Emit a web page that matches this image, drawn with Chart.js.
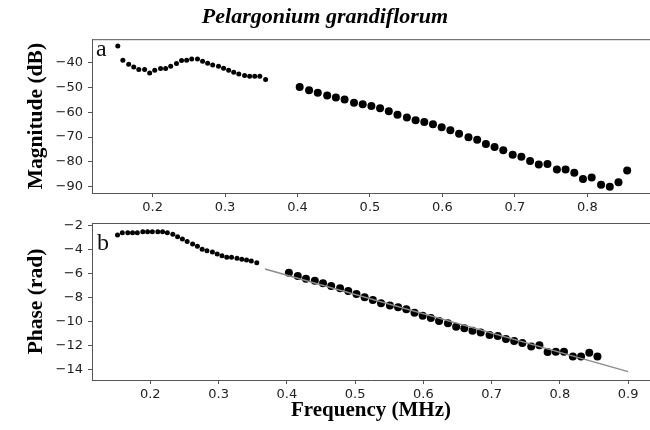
<!DOCTYPE html>
<html>
<head>
<meta charset="UTF-8">
<title>Pelargonium grandiflorum</title>
<script src="https://cdn.jsdelivr.net/npm/chart.js@4.4.0/dist/chart.umd.min.js"></script>
<style>
  html, body { margin: 0; padding: 0; background: #fff; overflow: hidden; }
  .panel { position: absolute; left: 0; width: 650px; height: 215px; }
  #top { top: 0; }
  #bottom { top: 215px; }
</style>
</head>
<body>
<div class="panel" id="top"><canvas id="magChart"></canvas></div>
<div class="panel" id="bottom"><canvas id="phaseChart"></canvas></div>
<script>
// frequencies (MHz): first sweep (small dots) and second sweep (large dots)
const freqSmall = [0.152, 0.159, 0.167, 0.174, 0.181, 0.189, 0.196, 0.203, 0.211, 0.218,
                   0.225, 0.233, 0.240, 0.247, 0.254, 0.262, 0.269, 0.276, 0.283, 0.291,
                   0.298, 0.305, 0.312, 0.319, 0.327, 0.334, 0.341, 0.348, 0.356];
const freqLarge = [0.403, 0.416, 0.428, 0.441, 0.453, 0.465, 0.478, 0.490, 0.502, 0.514,
                   0.526, 0.538, 0.551, 0.563, 0.575, 0.587, 0.599, 0.611, 0.623, 0.636,
                   0.648, 0.660, 0.672, 0.684, 0.697, 0.709, 0.721, 0.733, 0.745, 0.758,
                   0.770, 0.782, 0.794, 0.806, 0.819, 0.831, 0.843, 0.855];

// magnitude (dB)
const magSmall = [-33.3, -39.1, -40.7, -41.8, -42.8, -42.8, -44.2, -43.1, -42.4, -42.4,
                  -41.5, -40.4, -39.2, -39.1, -38.6, -38.6, -39.5, -40.3, -41.0, -41.5,
                  -42.3, -43.1, -43.9, -44.6, -45.2, -45.5, -45.5, -45.5, -46.8];
const magLarge = [-49.8, -51.1, -52.2, -53.3, -54.1, -54.9, -56.2, -56.8, -57.5, -58.4,
                  -59.6, -61.0, -62.1, -63.2, -63.9, -64.8, -66.0, -67.2, -68.7, -70.1,
                  -71.1, -72.8, -74.0, -75.3, -77.1, -77.9, -79.6, -81.0, -80.8, -83.0,
                  -83.0, -84.3, -86.9, -86.3, -89.2, -90.0, -88.2, -83.4];

// phase (rad)
const phaseSmall = [-2.75, -2.56, -2.56, -2.56, -2.56, -2.48, -2.48, -2.48, -2.48, -2.48,
                    -2.56, -2.70, -2.90, -3.10, -3.30, -3.50, -3.70, -3.95, -4.07, -4.18,
                    -4.34, -4.50, -4.62, -4.62, -4.71, -4.79, -4.85, -4.93, -5.07];
const phaseLarge = [-5.91, -6.19, -6.41, -6.58, -6.80, -7.02, -7.22, -7.44, -7.69, -7.97,
                    -8.20, -8.47, -8.67, -8.81, -8.98, -9.26, -9.51, -9.70, -9.96, -10.15,
                    -10.43, -10.57, -10.77, -10.93, -11.13, -11.21, -11.46, -11.63, -11.80, -12.10,
                    -11.99, -12.55, -12.53, -12.53, -12.94, -12.94, -12.61, -12.94];

// linear fit of the phase
const fitFreq = [0.368, 0.900];
const fitPhase = [-5.6, -14.2];

// tick labels
const magFreqTicks = [0.2, 0.3, 0.4, 0.5, 0.6, 0.7, 0.8];
const phaseFreqTicks = [0.2, 0.3, 0.4, 0.5, 0.6, 0.7, 0.8, 0.9];
const magTicks = [-40, -50, -60, -70, -80, -90];
const phaseTicks = [-2, -4, -6, -8, -10, -12, -14];

const pts = (xs, ys) => xs.map((x, i) => ({x: x, y: ys[i]}));
const minus = v => String(v).replace('-', '\u2212');

Chart.defaults.font.family = '"DejaVu Sans", sans-serif';
Chart.defaults.font.size = 13;
Chart.defaults.color = '#222';

const serif = '"Liberation Serif", "Times New Roman", serif';
const axisGrey = '#555';

// top spine + panel letter
const frame = {
  id: 'frame',
  afterDraw(chart, args, opts) {
    const {ctx, chartArea} = chart;
    ctx.save();
    ctx.strokeStyle = axisGrey;
    ctx.lineWidth = 1;
    ctx.beginPath();
    ctx.moveTo(chartArea.left, chartArea.top + 0.5);
    ctx.lineTo(chartArea.right, chartArea.top + 0.5);
    ctx.stroke();
    ctx.fillStyle = '#111';
    ctx.font = '24px ' + serif;
    ctx.textBaseline = 'alphabetic';
    ctx.fillText(opts.text, chartArea.left + opts.dx, chartArea.top + opts.dy);
    ctx.restore();
  }
};

function xScale(min, max, ticks, height, title) {
  return {
    type: 'linear', min: min, max: max,
    afterBuildTicks: s => { s.ticks = ticks.map(v => ({value: v})); },
    afterFit: s => { s.height = height; s.paddingLeft = 0; s.paddingRight = 0; },
    grid: { drawOnChartArea: false, drawTicks: true, tickLength: 4, tickColor: axisGrey },
    border: { color: axisGrey },
    ticks: { autoSkip: false, maxRotation: 0, padding: 3, callback: v => String(v) },
    title: title
  };
}

function yScale(min, max, ticks, title) {
  return {
    type: 'linear', min: min, max: max,
    afterBuildTicks: s => { s.ticks = ticks.map(v => ({value: v})); },
    afterFit: s => { s.width = 92; s.paddingTop = 0; s.paddingBottom = 0; },
    grid: { drawOnChartArea: false, drawTicks: true, tickLength: 4, tickColor: axisGrey },
    border: { color: axisGrey },
    ticks: { autoSkip: false, padding: 5, callback: v => minus(v) },
    title: {
      display: true, text: title, color: '#000',
      font: { family: serif, size: 21.5, weight: 'bold' },
      padding: { top: 24, bottom: 0 }
    }
  };
}

function dots(xs, ys, r) {
  return { type: 'scatter', data: pts(xs, ys), pointRadius: r, pointHoverRadius: r,
           backgroundColor: '#000', borderWidth: 0, order: 1 };
}

const common = {
  animation: false,
  responsive: true,
  maintainAspectRatio: false,
  events: []
};

new Chart(document.getElementById('magChart'), {
  type: 'scatter',
  data: {
    datasets: [dots(freqSmall, magSmall, 2.5), dots(freqLarge, magLarge, 4)]
  },
  options: Object.assign({}, common, {
    layout: { autoPadding: false, padding: { top: 0, right: 0, bottom: 0, left: 0 } },
    scales: {
      x: xScale(0.1164, 0.8865, magFreqTicks, 22, { display: false }),
      y: yScale(-92.5, -30.6, magTicks, 'Magnitude (dB)')
    },
    plugins: {
      legend: { display: false },
      tooltip: { enabled: false },
      title: {
        display: true, text: 'Pelargonium grandiflorum', color: '#000',
        font: { family: serif, size: 22, weight: 'bold', style: 'italic', lineHeight: 1.1 },
        padding: { top: 5, bottom: 10 }
      },
      frame: { text: 'a', dx: 4, dy: 17 }
    }
  }),
  plugins: [frame]
});

new Chart(document.getElementById('phaseChart'), {
  type: 'scatter',
  data: {
    datasets: [
      { type: 'line', data: pts(fitFreq, fitPhase), borderColor: '#8c8c8c', borderWidth: 1.5,
        pointRadius: 0, fill: false, order: 0 },
      dots(freqSmall, phaseSmall, 2.5),
      dots(freqLarge, phaseLarge, 4)
    ]
  },
  options: Object.assign({}, common, {
    layout: { autoPadding: false, padding: { top: 8, right: 0, bottom: 0, left: 0 } },
    scales: {
      x: xScale(0.1146, 0.932, phaseFreqTicks, 50, {
        display: true, text: 'Frequency (MHz)', color: '#000',
        font: { family: serif, size: 21, weight: 'bold' },
        padding: { top: 0, bottom: 7 }
      }),
      y: yScale(-14.9, -1.75, phaseTicks, 'Phase (rad)')
    },
    plugins: {
      legend: { display: false },
      tooltip: { enabled: false },
      frame: { text: 'b', dx: 5, dy: 27 }
    }
  }),
  plugins: [frame]
});
</script>
</body>
</html>
